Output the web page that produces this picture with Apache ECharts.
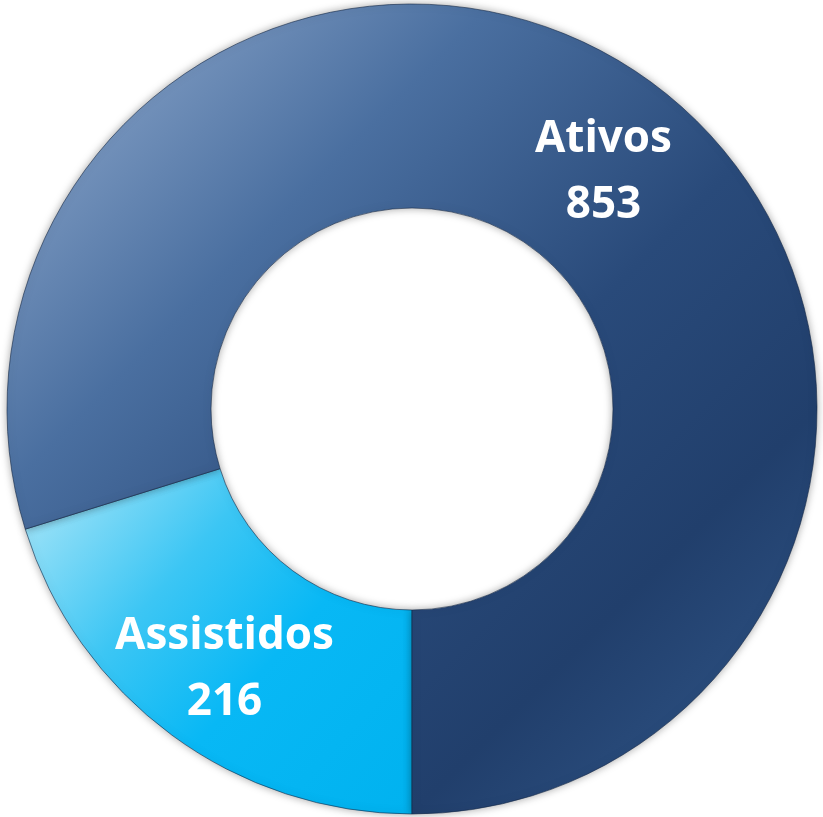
<!DOCTYPE html>
<html>
<head>
<meta charset="utf-8">
<script src="https://cdn.jsdelivr.net/npm/echarts@6/dist/echarts.min.js"></script>
<style>
html,body{margin:0;padding:0;background:#fff;}
#c{width:823px;height:817px;}
</style>
</head>
<body>
<div id="c"></div>
<script>
const categories = ['Assistidos', 'Ativos'];
const values = [216, 853];

const fills = [
  {type:'linear',x:0,y:0,x2:1,y2:1,colorStops:[{offset:0,color:'#b2e8f8'},{offset:0.35,color:'#3cc6f4'},{offset:0.6,color:'#08b8f5'},{offset:1,color:'#00b2ef'}]},
  {type:'linear',x:0,y:0,x2:1,y2:1,colorStops:[{offset:0,color:'#97b0d2'},{offset:0.3,color:'#4a6fa0'},{offset:0.55,color:'#294a7a'},{offset:0.75,color:'#213f6c'},{offset:1,color:'#335a8d'}]}
];
const offsets = [[-6, 14], [10, 10]];

const chart = echarts.init(document.getElementById('c'));
chart.setOption({
  animation: false,
  series: [{
    type: 'pie',
    center: [412, 409],
    radius: [201, 405],
    startAngle: 270,
    clockwise: true,
    label: {
      show: true,
      position: 'inside',
      formatter: p => p.name + '\n' + p.value,
      color: '#ffffff',
      fontFamily: 'Open Sans',
      fontWeight: 'bold',
      fontSize: 44,
      lineHeight: 66
    },
    labelLine: {show: false},
    itemStyle: {
      borderColor: 'rgba(20,40,70,0.6)',
      borderWidth: 1,
      shadowBlur: 8,
      shadowColor: 'rgba(0,0,0,0.35)'
    },
    emphasis: {disabled: true},
    data: categories.map((n, i) => ({
      name: n,
      value: values[i],
      itemStyle: {color: fills[i]},
      label: {offset: offsets[i]}
    }))
  }]
});
</script>
</body>
</html>
